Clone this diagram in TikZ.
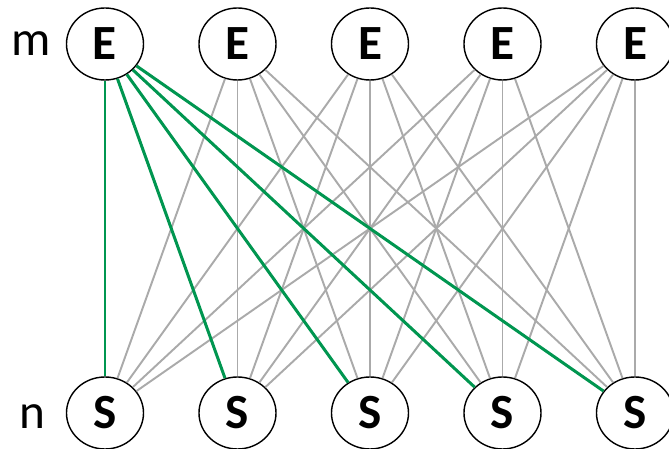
\documentclass[tikz,border=0pt]{standalone}
\usepackage{fontspec}
\setmainfont{Carlito}
\usetikzlibrary{shapes.geometric}
\definecolor{lgray}{RGB}{170,170,170}
\definecolor{dgreen}{RGB}{0,150,80}
\tikzset{vtx/.style={ellipse,draw,fill=white,line width=0.8pt,minimum width=1.54cm,minimum height=1.44cm,
    inner sep=0pt,font=\fontsize{28}{30}\selectfont\bfseries}}
\tikzset{rowlbl/.style={inner sep=0pt,font=\fontsize{28}{30}\selectfont}}
\tikzset{grayedge/.style={line width=1.1pt,color=lgray}}
\tikzset{greenedge/.style={line width=1.7pt,color=dgreen}}

\begin{document}
\begin{tikzpicture}
  \useasboundingbox (0,0) rectangle (13.38,8.98);

  \def\ytop{8.10}
  \def\ybot{0.72}

  % top row
  \node [vtx] (e1) at (2.10,\ytop)  {E};
  \node [vtx] (e2) at (4.75,\ytop)  {E};
  \node [vtx] (e3) at (7.40,\ytop)  {E};
  \node [vtx] (e4) at (10.05,\ytop) {E};
  \node [vtx] (e5) at (12.70,\ytop) {E};

  % bottom row
  \node [vtx] (s1) at (2.10,\ybot)  {S};
  \node [vtx] (s2) at (4.75,\ybot)  {S};
  \node [vtx] (s3) at (7.40,\ybot)  {S};
  \node [vtx] (s4) at (10.05,\ybot) {S};
  \node [vtx] (s5) at (12.70,\ybot) {S};

  \node [rowlbl] (m) at (0.62,8.11) {m};
  \node [rowlbl] (n) at (0.64,0.64) {n};

  % all pairs
  \foreach \i in {1,...,5}
    \foreach \j in {1,...,5}
      \draw [grayedge] (e\i) -- (s\j);

  % first one
  \foreach \j in {1,...,5}
    \draw [greenedge] (e1) -- (s\j);
\end{tikzpicture}
\end{document}
